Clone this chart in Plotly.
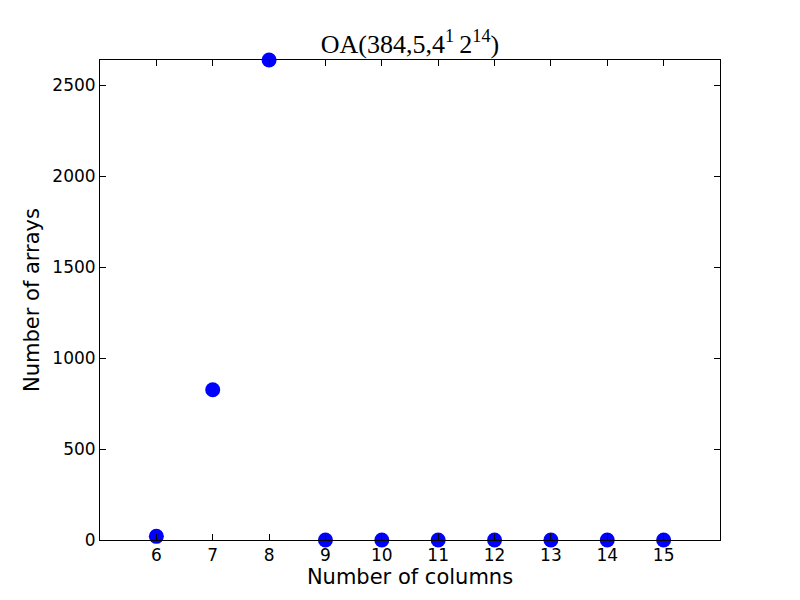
import plotly.graph_objects as go

columns = [6, 7, 8, 9, 10, 11, 12, 13, 14, 15]
num_arrays = [20, 826, 2640, 0, 0, 0, 0, 0, 0, 0]
x_ticks = [6, 7, 8, 9, 10, 11, 12, 13, 14, 15]
y_ticks = [0, 500, 1000, 1500, 2000, 2500]

fig = go.Figure()
fig.add_trace(go.Scatter(
    x=columns, y=num_arrays, mode="markers",
    marker=dict(color="#0000ff", size=15, line=dict(width=0)),
    cliponaxis=False, showlegend=False,
))

axis_common = dict(
    showgrid=False, zeroline=False, showline=True, linecolor="black", linewidth=1,
    mirror="ticks", ticks="inside", ticklen=6, tickcolor="black", tickwidth=1,
    tickfont=dict(family="DejaVu Sans", size=17, color="black"),
)

fig.update_layout(
    width=792, height=592,
    margin=dict(l=92, r=80, t=52, b=60),
    paper_bgcolor="white", plot_bgcolor="white",
    title=dict(
        text="OA(384,5,4<sup>1</sup>\u20092<sup>14</sup>)",
        font=dict(family="Liberation Serif", size=26, color="black"),
        x=0.5076, xanchor="center", y=0.939, yanchor="middle",
    ),
    xaxis=dict(range=[5, 16], tickvals=x_ticks,
               title=dict(text="Number of columns", font=dict(family="DejaVu Sans", size=21, color="black"), standoff=2),
               **axis_common),
    yaxis=dict(range=[0, 2640], tickvals=y_ticks,
               title=dict(text="Number of arrays", font=dict(family="DejaVu Sans", size=21, color="black"), standoff=6),
               **axis_common),
)

fig.write_html("out.html")
